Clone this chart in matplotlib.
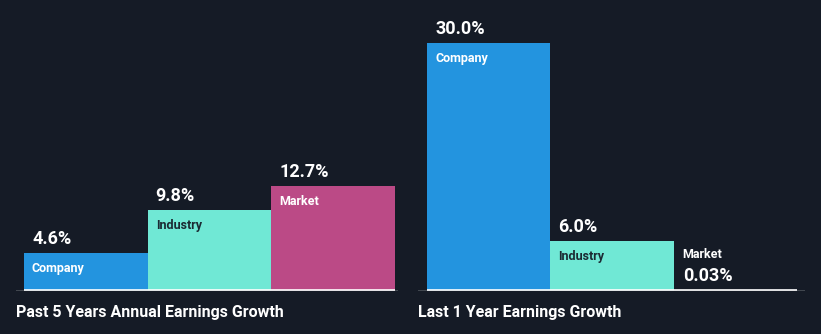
import matplotlib
matplotlib.use("Agg")
import matplotlib.pyplot as plt

plt.rcParams["font.family"] = ["Roboto", "DejaVu Sans"]

BG = "#151b26"
categories = ["Company", "Industry", "Market"]
colors = ["#2394df", "#70e8d5", "#bb4a86"]
name_colors = ["#ffffff", "#1b2a33", "#ffffff"]

past_5y = [4.6, 9.8, 12.7]
past_5y_labels = ["4.6%", "9.8%", "12.7%"]
last_1y = [30.0, 6.0, 0.03]
last_1y_labels = ["30.0%", "6.0%", "0.03%"]

W, H = 821, 334
fig = plt.figure(figsize=(W / 100, H / 100), dpi=100, facecolor=BG)

BASE = 291          # baseline, px from top
PX_PER_PCT = 8.27
YMAX = BASE / PX_PER_PCT


def panel(x0, x1, bar_l, bar_r, values, labels, title):
    ax = fig.add_axes([x0 / W, (H - BASE) / H, (x1 - x0) / W, BASE / H])
    ax.set_facecolor(BG)
    unit = (bar_r - bar_l) / 3
    ax.set_xlim(-0.5 - (bar_l - x0) / unit, 2.5 + (x1 - bar_r) / unit)
    ax.set_ylim(0, YMAX)
    ax.bar(range(3), values, width=1.0, color=colors, edgecolor="none")
    ax.axhline(0, color="#4a5058", lw=1.2, zorder=1)
    ax.hlines(0.08, -0.5, 2.5, color="white", lw=1.2, zorder=3)
    for s in ax.spines.values():
        s.set_visible(False)
    ax.set_xticks([])
    ax.set_yticks([])

    for i, (v, lab) in enumerate(zip(values, labels)):
        left = i - 0.5
        if v * PX_PER_PCT < 30:
            # bar too short to hold its name: stack name and value above the baseline
            ax.annotate(lab, (left, 0), xytext=(9, 6), textcoords="offset pixels",
                        color="white", fontsize=13, fontweight="bold",
                        ha="left", va="bottom")
            ax.annotate(categories[i], (left, 0), xytext=(9, 30), textcoords="offset pixels",
                        color="white", fontsize=9, fontweight="bold",
                        ha="left", va="bottom")
        else:
            ax.annotate(lab, (left, v), xytext=(8, 5), textcoords="offset pixels",
                        color="white", fontsize=13, fontweight="bold",
                        ha="left", va="bottom")
            ax.annotate(categories[i], (left, v), xytext=(8, -9), textcoords="offset pixels",
                        color=name_colors[i], fontsize=9, fontweight="bold",
                        ha="left", va="top")

    fig.text(x0 / W, 1 - 312 / H, title, color="white", fontsize=11.5,
             fontweight="bold", ha="left", va="center")
    return ax


panel(16, 398, 24, 395, past_5y, past_5y_labels, "Past 5 Years Annual Earnings Growth")
panel(418, 805, 427, 797, last_1y, last_1y_labels, "Last 1 Year Earnings Growth")

fig.savefig("out.png", dpi=100, facecolor=BG)
